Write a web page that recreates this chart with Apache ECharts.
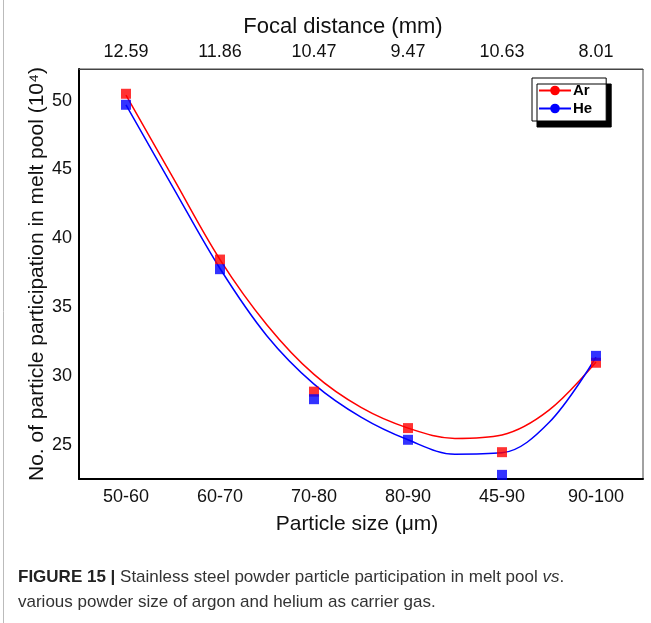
<!DOCTYPE html>
<html>
<head>
<meta charset="utf-8">
<script src="https://cdn.jsdelivr.net/npm/echarts@6/dist/echarts.min.js"></script>
<style>html,body{margin:0;padding:0;background:#fff;}#c{width:651px;height:623px;}</style>
</head>
<body>
<div id="c"></div>
<script>
// ---- data ----
var particleSizes = ['50-60', '60-70', '70-80', '80-90', '45-90', '90-100'];
var focalDistances = ['12.59', '11.86', '10.47', '9.47', '10.63', '8.01'];
var arPoints = [50.5, 38.45, 28.85, 26.2, 24.45, 30.95];
var hePoints = [49.7, 37.75, 28.3, 25.35, 22.8, 31.45];
// fitted curves at half-category steps
var curveX = [0, 0.5, 1, 1.5, 2, 2.5, 3, 3.5, 4, 4.5, 5];
var arCurve = [50.4, 44.4, 38.45, 33.7, 30.1, 27.7, 26.2, 25.45, 25.7, 27.5, 31.0];
var heCurve = [49.7, 43.7, 37.8, 32.9, 29.4, 27.0, 25.35, 24.3, 24.4, 26.6, 31.35];
var captionLine1 = 'Stainless steel powder particle participation in melt pool ';
var captionLine2 = 'various powder size of argon and helium as carrier gas.';

function pairs(xs, ys) { return xs.map(function (x, i) { return [x, ys[i]]; }); }

var chart = echarts.init(document.getElementById('c'), null, { renderer: 'canvas' });
var font = '"Liberation Sans", Arial, sans-serif';
chart.setOption({
  animation: false,
  backgroundColor: '#fff',
  grid: { left: 79, right: 8, top: 69, bottom: 144, show: true, borderColor: '#444', borderWidth: 1 },
  xAxis: [
    {
      type: 'category', position: 'bottom', data: particleSizes, boundaryGap: true,
      axisLine: { lineStyle: { color: '#000', width: 2 } }, axisTick: { show: false },
      axisLabel: { color: '#111', fontSize: 18, fontFamily: font, margin: 9 },
      name: 'Particle size (μm)', nameLocation: 'middle', nameGap: 35,
      nameTextStyle: { color: '#111', fontSize: 21, fontFamily: font, padding: [0, 8, 0, 0] }
    },
    {
      type: 'category', position: 'top', data: focalDistances, boundaryGap: true,
      axisLine: { lineStyle: { color: '#444', width: 1 } }, axisTick: { show: false },
      axisLabel: { color: '#111', fontSize: 18, fontFamily: font, margin: 8 },
      name: 'Focal distance (mm)', nameLocation: 'middle', nameGap: 30,
      nameTextStyle: { color: '#111', fontSize: 22, fontFamily: font, padding: [0, 36, 0, 0] }
    },
    { type: 'value', min: -0.5, max: 5.5, show: false }
  ],
  yAxis: {
    type: 'value', min: 22.5, max: 52.3,
    axisLine: { show: true, onZero: false, lineStyle: { color: '#000', width: 2 } }, axisTick: { show: false },
    splitLine: { show: false },
    axisLabel: { color: '#111', fontSize: 18, fontFamily: font, margin: 7, showMinLabel: false, showMaxLabel: false },
    name: 'No. of particle participation in melt pool (10⁴)', nameLocation: 'middle', nameGap: 31,
    nameMoveOverlap: false,
    nameTextStyle: { color: '#111', fontSize: 21, fontFamily: font }
  },
  legend: {
    data: ['Ar', 'He'], orient: 'vertical', left: 532, top: 78,
    itemWidth: 32, itemHeight: 12, itemGap: 3, padding: [5, 14, 5, 6],
    backgroundColor: '#fff', borderColor: '#000', borderWidth: 1,
    shadowColor: '#000', shadowBlur: 0, shadowOffsetX: 5, shadowOffsetY: 6,
    textStyle: { color: '#000', fontSize: 15, fontWeight: 'bold', fontFamily: font, padding: [0, 0, 0, -3] }
  },
  series: [
    { name: 'Ar', type: 'line', xAxisIndex: 2, data: pairs(curveX, arCurve), smooth: 0.35,
      showSymbol: false, symbol: 'circle', symbolSize: 10, itemStyle: { color: '#ff0000' },
      lineStyle: { color: '#ff0000', width: 1.5 }, z: 3 },
    { name: 'He', type: 'line', xAxisIndex: 2, data: pairs(curveX, heCurve), smooth: 0.35,
      showSymbol: false, symbol: 'circle', symbolSize: 10, itemStyle: { color: '#0000ff' },
      lineStyle: { color: '#0000ff', width: 1.5 }, z: 3 },
    { name: 'Ar', type: 'scatter', xAxisIndex: 0, data: arPoints, symbol: 'rect', symbolSize: 10,
      itemStyle: { color: '#ff0000' }, z: 4 },
    { name: 'He', type: 'scatter', xAxisIndex: 0, data: hePoints, symbol: 'rect', symbolSize: 10,
      itemStyle: { color: '#0000ff' }, z: 4 }
  ],
  graphic: [
    { type: 'line', shape: { x1: 3.5, y1: 0, x2: 3.5, y2: 623 }, style: { stroke: '#bbb', lineWidth: 1 } },
    { type: 'text', left: 18, top: 569, style: {
        text: '{b|FIGURE 15 |}{n| ' + captionLine1 + '}{i|vs}{n|.}',
        rich: {
          b: { fontFamily: font, fontWeight: 'bold', fontSize: 17, fill: '#222' },
          n: { fontFamily: font, fontSize: 17, fill: '#333' },
          i: { fontFamily: font, fontStyle: 'italic', fontSize: 17, fill: '#333' }
        } } },
    { type: 'text', left: 18, top: 594, style: {
        text: captionLine2, fontFamily: font, fontSize: 17, fill: '#333' } }
  ]
});
</script>
</body>
</html>
